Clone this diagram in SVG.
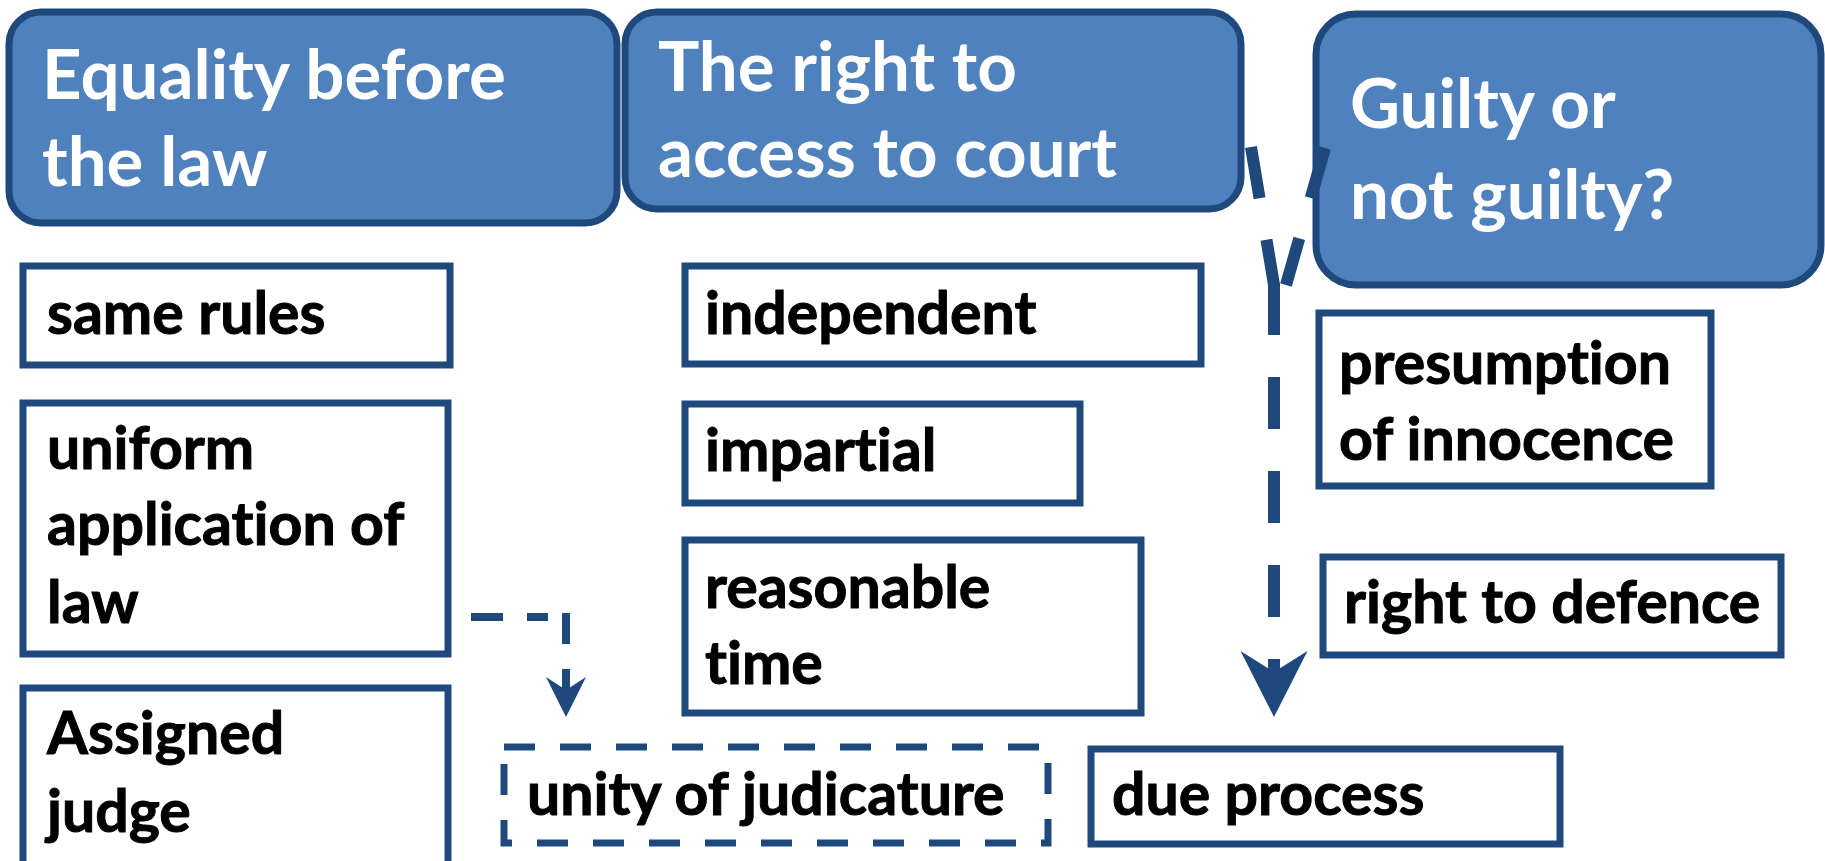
<svg xmlns="http://www.w3.org/2000/svg" width="1825" height="861" viewBox="0 0 1825 861">
<style>
text{font-variant-ligatures:none;font-feature-settings:"liga" 0,"clig" 0}
.hd rect{fill:#4F81BD;stroke:#1F487C;stroke-width:7}
.hd text{fill:#fff;font-family:Lato,"Open Sans",sans-serif;font-weight:700;font-size:69px}
.bx rect{fill:#fff;stroke:#1F487C;stroke-width:7}
.bx text{fill:#000;font-family:Lato,"Open Sans",sans-serif;font-weight:700;font-size:59px;stroke:#000;stroke-width:1}
.dash rect{stroke-dasharray:31 25}
.con{fill:none;stroke:#1F487C}
.big{stroke-width:12;stroke-dasharray:52 42}
.sm{stroke-width:8}
</style>
<defs>
<marker id="ahBig" markerUnits="userSpaceOnUse" markerWidth="70" markerHeight="70" viewBox="0 0 70 70" refX="21" refY="35" orient="auto">
<path d="M66,35 L0,1.5 L21,35 L0,68.5 Z" fill="#1F487C"/>
</marker>
<marker id="ahSm" markerUnits="userSpaceOnUse" markerWidth="42" markerHeight="42" viewBox="0 0 42 42" refX="13" refY="20" orient="auto">
<path d="M40,20 L0,0 L13,20 L0,40 Z" fill="#1F487C"/>
</marker>
</defs>

<g id="equality" class="hd">
<rect x="9" y="12" width="608" height="211" rx="32"/>
<text x="42" y="99">Equality before</text>
<text x="42" y="186">the law</text>
</g>
<g id="access" class="hd">
<rect x="625" y="12" width="616" height="197" rx="32"/>
<text x="658" y="91">The right to</text>
<text x="658" y="177">access to court</text>
</g>
<g id="guilty" class="hd">
<rect x="1316" y="14" width="505" height="271" rx="40"/>
<text x="1350" y="128">Guilty or</text>
<text x="1350" y="219">not guilty?</text>
</g>

<g id="same-rules" class="bx">
<rect x="23" y="266" width="427" height="99"/>
<text x="47" y="334">same rules</text>
</g>
<g id="uniform" class="bx">
<rect x="23" y="403" width="425" height="251"/>
<text x="47" y="469">uniform</text>
<text x="47" y="545">application of</text>
<text x="47" y="623">law</text>
</g>
<g id="assigned" class="bx">
<rect x="23" y="688" width="425" height="190"/>
<text x="47" y="754">Assigned</text>
<text x="47" y="832">judge</text>
</g>
<g id="independent" class="bx">
<rect x="685" y="266" width="516" height="98"/>
<text x="705" y="334">independent</text>
</g>
<g id="impartial" class="bx">
<rect x="685" y="404" width="395" height="99"/>
<text x="705" y="471">impartial</text>
</g>
<g id="reasonable" class="bx">
<rect x="685" y="540" width="456" height="173"/>
<text x="705" y="608">reasonable</text>
<text x="705" y="684">time</text>
</g>
<g id="presumption" class="bx">
<rect x="1319" y="313" width="392" height="173"/>
<text x="1339" y="384">presumption</text>
<text x="1339" y="460">of innocence</text>
</g>
<g id="defence" class="bx">
<rect x="1323" y="557" width="458" height="98"/>
<text x="1344" y="623">right to defence</text>
</g>
<g id="unity" class="bx dash">
<rect x="504" y="747" width="544" height="96"/>
<text x="527" y="815">unity of judicature</text>
</g>
<g id="due-process" class="bx">
<rect x="1091" y="749" width="469" height="95"/>
<text x="1112" y="815">due process</text>
</g>

<g id="connectors">
<path class="con sm" d="M471,617 H570" stroke-dasharray="32 24 21 100"/>
<path class="con sm" d="M566,613 V690" stroke-dasharray="31 25 40" marker-end="url(#ahSm)"/>
<path class="con big" d="M1251,147 L1274,285"/>
<path class="con big" d="M1325,148 L1286,285"/>
<path class="con big" d="M1274,283 V672" marker-end="url(#ahBig)"/>
</g>
</svg>
